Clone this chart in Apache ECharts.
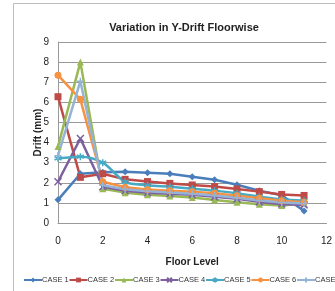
<!DOCTYPE html>
<html>
<head>
<meta charset="utf-8">
<script src="https://cdn.jsdelivr.net/npm/echarts@6/dist/echarts.min.js"></script>
<style>
  html, body { margin: 0; padding: 0; background: #fff; }
  #chart { width: 335px; height: 291px; }
</style>
</head>
<body>
<div id="chart"></div>
<script>
// floor levels and drift per case (mm)
var floors = [0, 1, 2, 3, 4, 5, 6, 7, 8, 9, 10, 11];
var case1 = [1.15, 2.45, 2.52, 2.55, 2.5, 2.45, 2.3, 2.15, 1.9, 1.6, 1.38, 0.6];
var case2 = [6.28, 2.27, 2.45, 2.17, 2.06, 1.97, 1.89, 1.81, 1.69, 1.56, 1.42, 1.37];
var case3 = [3.8, 8.0, 1.7, 1.51, 1.4, 1.34, 1.27, 1.14, 1.03, 0.93, 0.87, 0.97];
var case4 = [2.05, 4.2, 1.8, 1.6, 1.5, 1.45, 1.4, 1.3, 1.2, 1.05, 0.95, 0.9];
var case5 = [3.22, 3.3, 3.0, 2.05, 1.88, 1.8, 1.7, 1.61, 1.48, 1.31, 1.18, 1.11];
var case6 = [7.35, 6.15, 2.05, 1.78, 1.67, 1.6, 1.56, 1.48, 1.36, 1.23, 1.11, 1.03];
var case7 = [3.35, 7.05, 1.88, 1.68, 1.58, 1.52, 1.46, 1.37, 1.26, 1.12, 1.02, 0.97];

var caseNames = ['CASE 1', 'CASE 2', 'CASE 3', 'CASE 4', 'CASE 5', 'CASE 6', 'CASE 7'];
var caseData = [case1, case2, case3, case4, case5, case6, case7];
var colors = ['#4A7EBB', '#BE4B48', '#98B954', '#7D60A0', '#46AAC5', '#F69240', '#95B3D7'];
var symbols = [
    'diamond', 'rect', 'triangle',
    'path://M0,0L10,10M10,0L0,10',
    'path://M5,0L5,10M0,2.5L10,7.5M0,7.5L10,2.5',
    'circle',
    'path://M5,0L5,10M0,5L10,5'
];

var font = 'Liberation Sans, sans-serif';

var mychart = echarts.init(document.getElementById('chart'));

var series = [];
var legends = [];
for (var i = 0; i < caseNames.length; i++) {
    var pts = [];
    for (var j = 0; j < floors.length; j++) {
        pts.push([floors[j], caseData[i][j]]);
    }
    series.push({
        name: caseNames[i],
        type: 'line',
        data: pts,
        symbol: symbols[i],
        symbolSize: 7,
        smooth: i === 4 ? 0.3 : false,
        lineStyle: { width: 2.5, color: colors[i] },
        itemStyle: { color: colors[i], borderColor: colors[i], borderWidth: (i === 3 || i === 4 || i === 6) ? 1.5 : 0 }
    });
    // one legend per case so the row keeps the reference spacing
    legends.push({
        left: 23 + i * 45.5,
        top: 276,
        padding: 0,
        itemWidth: 18,
        itemHeight: 6,
        itemGap: 0,
        textStyle: { fontFamily: font, fontSize: 7.5, color: '#333', padding: [0, 0, 0, -5] },
        data: [caseNames[i]]
    });
}

option = {
    animation: false,
    color: colors,
    title: {
        text: 'Variation in Y-Drift Floorwise',
        left: 179,
        textAlign: 'center',
        top: 17,
        textStyle: { fontFamily: font, fontSize: 11, fontWeight: 'bold', color: '#222' }
    },
    graphic: [{
        type: 'rect',
        shape: { x: 13.5, y: 3.5, width: 340, height: 300 },
        style: { fill: 'none', stroke: '#bdbdbd', lineWidth: 1 },
        silent: true
    }],
    legend: legends,
    grid: {
        left: 58,
        right: 5,
        top: 42,
        bottom: 68
    },
    xAxis: {
        type: 'value',
        min: 0,
        max: 12,
        interval: 2,
        name: 'Floor Level',
        nameLocation: 'middle',
        nameGap: 34,
        nameTextStyle: { fontFamily: font, fontSize: 10, fontWeight: 'bold', color: '#222' },
        axisLine: { show: true, lineStyle: { color: '#999' } },
        axisTick: { show: false },
        splitLine: { show: false },
        axisLabel: { fontFamily: font, fontSize: 10, color: '#222', margin: 13 }
    },
    yAxis: {
        type: 'value',
        min: 0,
        max: 9,
        interval: 1,
        name: 'Drift (mm)',
        nameLocation: 'middle',
        nameGap: 15,
        nameMoveOverlap: false,
        nameTextStyle: { fontFamily: font, fontSize: 10, fontWeight: 'bold', color: '#222' },
        axisLine: { show: true, lineStyle: { color: '#999' } },
        axisTick: { show: false },
        splitLine: { lineStyle: { color: '#999', width: 1 } },
        axisLabel: { fontFamily: font, fontSize: 10, color: '#222', margin: 9 }
    },
    series: series
};

mychart.setOption(option);
</script>
</body>
</html>
